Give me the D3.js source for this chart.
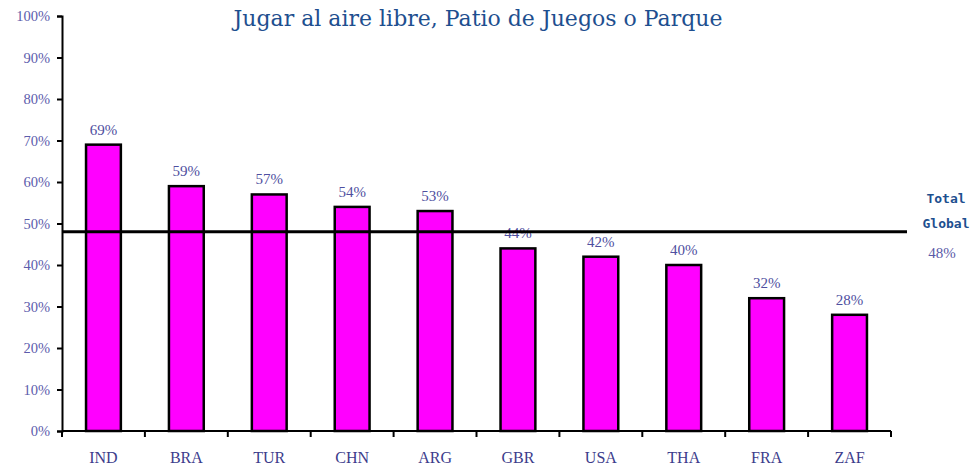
<!DOCTYPE html>
<html lang="es">
<head>
  <meta charset="UTF-8">
  <title>Jugar al aire libre</title>
  <style>
    body { margin: 0; background: #fff; }
    .axis path, .axis line { fill: none; stroke: #000; stroke-width: 2; }
    .axis text { font-family: "Liberation Serif", serif; }
  </style>
</head>
<body>
  <script src="https://cdn.jsdelivr.net/npm/d3@7"></script>
  <script>
    // datos
    var categories = ["IND", "BRA", "TUR", "CHN", "ARG", "GBR", "USA", "THA", "FRA", "ZAF"];
    var values = [69, 59, 57, 54, 53, 44, 42, 40, 32, 28];
    var totalGlobal = 48;
    var yTicks = [0, 10, 20, 30, 40, 50, 60, 70, 80, 90, 100];

    var width = 977, height = 468;
    var svg = d3.select("body").append("svg").attr("width", width).attr("height", height);

    var x = d3.scaleBand().domain(categories).range([62, 891]).paddingInner(0.58).paddingOuter(0.29);
    var y = d3.scaleLinear().domain([0, 100]).range([431, 16]);

    // eje y
    svg.append("g")
      .attr("class", "axis")
      .attr("transform", "translate(62,0)")
      .call(d3.axisLeft(y).tickValues(yTicks).tickSize(5).tickPadding(7).tickFormat(function (d) { return d + "%"; }))
      .call(function (g) { g.selectAll("text").attr("fill", "#5c5cac").style("font-size", "14.5px"); });

    // eje x, marcas entre categorias
    var xAxis = svg.append("g")
      .attr("class", "axis")
      .attr("transform", "translate(0,431)");
    xAxis.append("line").attr("x1", 62).attr("x2", 891).attr("y1", 0).attr("y2", 0);
    xAxis.selectAll(".tk").data(d3.range(categories.length + 1)).enter().append("line")
      .attr("x1", function (d) { return 62 + d * (829 / categories.length); })
      .attr("x2", function (d) { return 62 + d * (829 / categories.length); })
      .attr("y1", 0).attr("y2", 6);
    xAxis.selectAll("text").data(categories).enter().append("text")
      .attr("x", function (d) { return x(d) + x.bandwidth() / 2; })
      .attr("y", 32)
      .attr("text-anchor", "middle")
      .style("font-size", "16px")
      .attr("fill", "#3c3c8c")
      .text(function (d) { return d; });

    // barras
    svg.selectAll("rect.bar").data(values).enter().append("rect")
      .attr("class", "bar")
      .attr("x", function (d, i) { return x(categories[i]); })
      .attr("y", function (d) { return y(d); })
      .attr("width", x.bandwidth())
      .attr("height", function (d) { return y(0) - y(d); })
      .attr("fill", "#ff00ff")
      .attr("stroke", "#000")
      .attr("stroke-width", 2.5);

    // etiquetas de valor
    svg.selectAll("text.val").data(values).enter().append("text")
      .attr("class", "val")
      .attr("x", function (d, i) { return x(categories[i]) + x.bandwidth() / 2; })
      .attr("y", function (d) { return y(d) - 10; })
      .attr("text-anchor", "middle")
      .attr("font-family", "Liberation Serif, serif")
      .attr("font-size", 15)
      .attr("fill", "#4f4fa0")
      .text(function (d) { return d + "%"; });

    // linea total global
    svg.append("line")
      .attr("x1", 62).attr("x2", 907)
      .attr("y1", y(totalGlobal)).attr("y2", y(totalGlobal))
      .attr("stroke", "#000").attr("stroke-width", 3);

    svg.append("text").attr("x", 946).attr("y", 203).attr("text-anchor", "middle")
      .attr("font-family", "DejaVu Sans Mono, monospace").attr("font-weight", "bold")
      .attr("font-size", 13).attr("fill", "#1e4f8f").text("Total");
    svg.append("text").attr("x", 946).attr("y", 228).attr("text-anchor", "middle")
      .attr("font-family", "DejaVu Sans Mono, monospace").attr("font-weight", "bold")
      .attr("font-size", 13).attr("fill", "#1e4f8f").text("Global");
    svg.append("text").attr("x", 942).attr("y", 258).attr("text-anchor", "middle")
      .attr("font-family", "Liberation Serif, serif")
      .attr("font-size", 15).attr("fill", "#5a5aa8").text(totalGlobal + "%");

    // titulo
    svg.append("text")
      .attr("x", 478).attr("y", 26)
      .attr("text-anchor", "middle")
      .attr("font-family", "DejaVu Serif, serif")
      .attr("font-size", 22)
      .attr("fill", "#1e4f8f")
      .text("Jugar al aire libre, Patio de Juegos o Parque");
  </script>
</body>
</html>
